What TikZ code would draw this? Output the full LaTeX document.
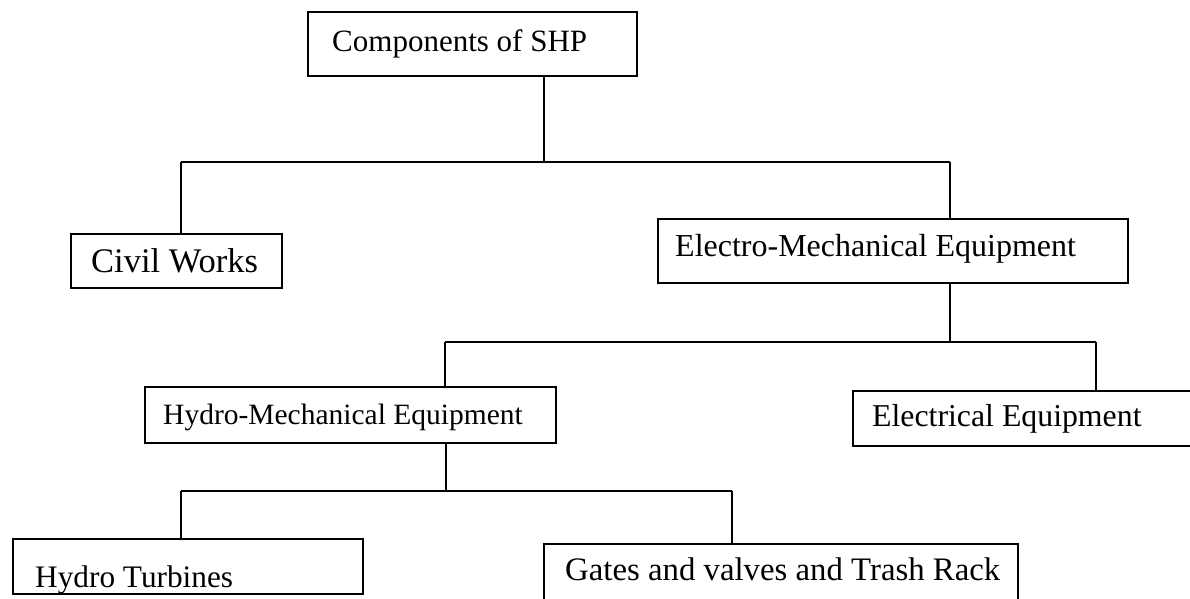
\documentclass[tikz,border=0pt]{standalone}
\usepackage{fontspec}
\setmainfont{Liberation Serif}
\begin{document}
\begin{tikzpicture}[x=1pt,y=-1pt,
  box/.style={draw, line width=1.9pt, inner sep=0pt, anchor=north west},
  lbl/.style={inner sep=0pt, anchor=base west},
  fs/.style={font=\fontsize{#1}{#1}\selectfont},
  conn/.style={line width=1.9pt}]
\useasboundingbox[fill=white] (0,0) rectangle (1190,599);
\clip (0,0) rectangle (1190,599);
% boxes
\node[box, minimum width=329pt, minimum height=64pt] (comp) at (307,11) {};
\node[box, minimum width=211pt, minimum height=54pt] (civil) at (70,233) {};
\node[box, minimum width=470pt, minimum height=64pt] (em) at (657,218) {};
\node[box, minimum width=411pt, minimum height=56pt] (hm) at (144,386) {};
\node[box, minimum width=360pt, minimum height=55pt] (el) at (852,390) {};
\node[box, minimum width=350pt, minimum height=55pt] (ht) at (12,538) {};
\node[box, minimum width=474pt, minimum height=70pt] (gv) at (543,543) {};
% labels
\node[lbl, fs=31] (tcomp) at ([shift={(25,41)}]comp.north west) {Components of SHP};
\node[lbl, fs=34.5] (tcivil) at ([shift={(21,39)}]civil.north west) {Civil Works};
\node[lbl, fs=32] (tem) at ([shift={(18,38)}]em.north west) {Electro-Mechanical Equipment};
\node[lbl, fs=29.5] (thm) at ([shift={(19,38)}]hm.north west) {Hydro-Mechanical Equipment};
\node[lbl, fs=31.8] (tel) at ([shift={(20,36)}]el.north west) {Electrical Equipment};
\node[lbl, fs=31.3] (tht) at ([shift={(23,49)}]ht.north west) {Hydro Turbines};
\node[lbl, fs=32.8] (tgv) at ([shift={(22,37)}]gv.north west) {Gates and valves and Trash Rack};
% junction coordinates
\coordinate (j1) at (544,162);
\coordinate (j1l) at (181,162);
\coordinate (j1r) at (950,162);
\coordinate (j2) at (950,342);
\coordinate (j2l) at (445,342);
\coordinate (j2r) at (1096,342);
\coordinate (j3) at (446,491);
\coordinate (j3l) at (181,491);
\coordinate (j3r) at (732,491);
% connectors
\draw[conn] (comp.south -| j1) -- (j1);
\draw[conn] (j1l) -- (j1r);
\draw[conn] (j1l) -- (civil.north -| j1l);
\draw[conn] (j1r) -- (em.north -| j1r);
\draw[conn] (em.south -| j2) -- (j2);
\draw[conn] (j2l) -- (j2r);
\draw[conn] (j2l) -- (hm.north -| j2l);
\draw[conn] (j2r) -- (el.north -| j2r);
\draw[conn] (hm.south -| j3) -- (j3);
\draw[conn] (j3l) -- (j3r);
\draw[conn] (j3l) -- (ht.north -| j3l);
\draw[conn] (j3r) -- (gv.north -| j3r);
\end{tikzpicture}
\end{document}
